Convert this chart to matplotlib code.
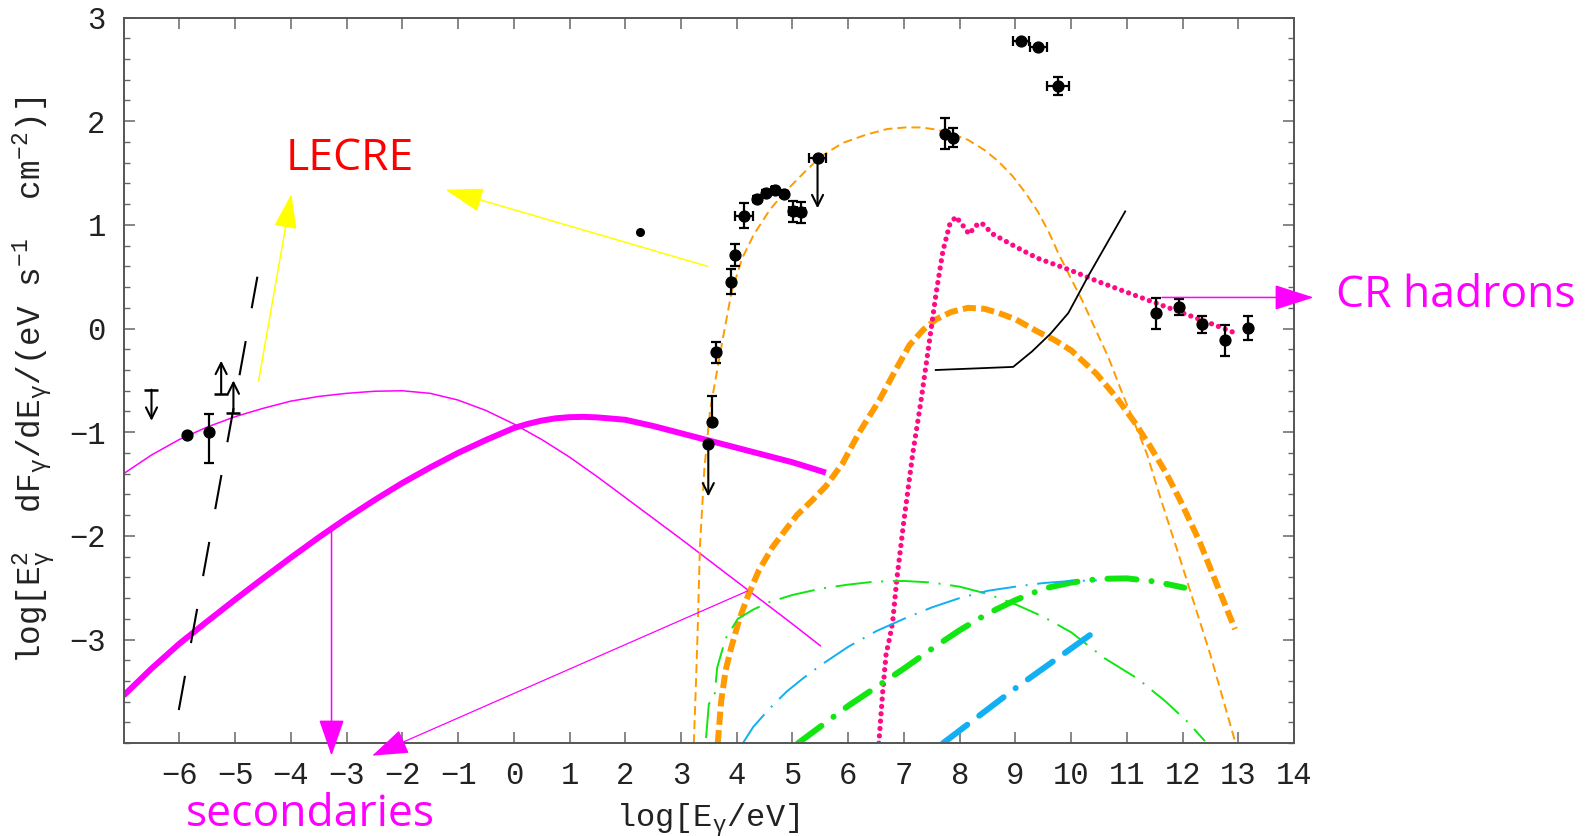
import matplotlib
matplotlib.use('Agg')
import matplotlib.pyplot as plt
from matplotlib.ticker import MultipleLocator

plt.rcParams['lines.scale_dashes'] = False
plt.rcParams['mathtext.fontset'] = 'custom'
plt.rcParams['mathtext.rm'] = 'Liberation Mono'
plt.rcParams['mathtext.it'] = 'Liberation Mono'
plt.rcParams['mathtext.bf'] = 'Liberation Mono'
plt.rcParams['font.family'] = ['Liberation Mono', 'DejaVu Sans Mono']

# ---------------- data ----------------
# thin magenta
thin_mag_x = [-7, -6.5, -6, -5.5, -5, -4.5, -4, -3.5, -3, -2.5, -2, -1.5, -1, -0.5, 0,
              0.5, 1, 1.5, 2, 3, 4, 5, 5.5]
thin_mag_y = [-1.40, -1.22, -1.07, -0.95, -0.85, -0.77, -0.70, -0.655, -0.625, -0.605,
              -0.60, -0.625, -0.69, -0.79, -0.92, -1.07, -1.24, -1.43, -1.63, -2.03,
              -2.44, -2.85, -3.06]
# thick magenta
thick_mag_x = [-7, -6.5, -6, -5.5, -5, -4.5, -4, -3.5, -3, -2.5, -2, -1.5, -1, -0.5, 0,
               0.25, 0.5, 0.75, 1, 1.25, 1.5, 2, 2.5, 3, 4, 5, 5.6]
thick_mag_y = [-3.54, -3.28, -3.04, -2.825, -2.615, -2.41, -2.21, -2.015, -1.83, -1.655,
               -1.49, -1.34, -1.20, -1.075, -0.96, -0.92, -0.888, -0.866, -0.855, -0.852,
               -0.857, -0.88, -0.94, -1.01, -1.15, -1.29, -1.39]
# black long dashed
bdash_x = [-6.01, -4.60]
bdash_y = [-3.68, 0.50]
# thin orange dashed
thin_or_x = [3.23, 3.27, 3.30, 3.34, 3.42, 3.52, 3.60, 3.75, 3.91, 4.10, 4.31, 4.60, 4.87,
             5.20, 5.51, 5.90, 6.32, 6.70, 7.03, 7.30, 7.58, 7.85, 8.15, 8.45, 8.70, 8.95,
             9.18, 9.40, 9.60, 9.75, 9.98, 10.2, 10.43, 10.67, 10.9, 11.12, 11.36, 11.6,
             12.0, 12.5, 12.95]
thin_or_y = [-4.0, -3.4, -2.9, -2.1, -1.35, -0.8, -0.55, -0.1, 0.36, 0.68, 0.91, 1.15,
             1.32, 1.50, 1.66, 1.79, 1.87, 1.925, 1.94, 1.94, 1.92, 1.88, 1.82, 1.72,
             1.61, 1.47, 1.31, 1.13, 0.93, 0.75, 0.50, 0.27, 0.0, -0.28, -0.6, -0.89,
             -1.21, -1.63, -2.3, -3.15, -4.0]
# thick orange dashed
thick_or_x = [3.66, 3.72, 3.80, 3.90, 4.05, 4.20, 4.40, 4.64, 4.85, 5.08, 5.35, 5.60, 5.90,
              6.20, 6.56, 6.85, 7.10, 7.35, 7.58, 7.85, 8.15, 8.45, 8.70, 9.00, 9.40, 9.70,
              10.0, 10.46, 10.82, 11.12, 11.41, 11.71, 11.95, 12.3, 12.6, 12.94]
thick_or_y = [-4.0, -3.6, -3.3, -3.08, -2.8, -2.58, -2.33, -2.11, -1.96, -1.80, -1.66,
              -1.52, -1.30, -1.0, -0.69, -0.40, -0.16, -0.01, 0.09, 0.16, 0.20, 0.19,
              0.15, 0.09, -0.03, -0.11, -0.21, -0.44, -0.67, -0.89, -1.13, -1.40, -1.65,
              -2.05, -2.45, -2.90]
# pink dotted (CR hadrons)
pink_x = [6.55, 6.62, 6.68, 6.75, 6.80, 6.87, 7.0, 7.16, 7.30, 7.45, 7.58, 7.70, 7.82, 7.93,
          8.05, 8.17, 8.28, 8.39, 8.6, 9.0, 9.39, 10.0, 10.5, 11.0, 11.5, 12.0, 12.5, 12.93]
pink_y = [-4.0, -3.5, -3.14, -2.97, -2.82, -2.43, -1.85, -1.2, -0.72, -0.15, 0.35, 0.75,
          1.0, 1.08, 1.0, 0.91, 0.99, 1.02, 0.91, 0.79, 0.68, 0.56, 0.45, 0.35, 0.25, 0.15,
          0.05, -0.04]
# black solid
bsol_x = [7.57, 8.96, 9.30, 9.63, 9.95, 10.3, 10.97]
bsol_y = [-0.40, -0.37, -0.22, -0.05, 0.15, 0.50, 1.13]
# green thin dash-dot
gthin_x = [3.45, 3.50, 3.60, 3.65, 3.80, 4.02, 4.30, 4.58, 5.0, 5.5, 6.0, 6.5, 7.0, 7.5,
           8.0, 8.5, 9.0, 9.5, 10.0, 10.6, 11.2, 11.7, 12.1, 12.4]
gthin_y = [-3.95, -3.62, -3.55, -3.27, -2.99, -2.80, -2.71, -2.64, -2.57, -2.51, -2.47,
           -2.44, -2.435, -2.45, -2.49, -2.56, -2.66, -2.78, -2.93, -3.18, -3.38, -3.60,
           -3.80, -3.98]
# green thick dash-dot
gthick_x = [5.10, 5.5, 6.0, 6.5, 7.0, 7.5, 8.0, 8.5, 9.0, 9.5, 10.0, 10.5, 11.0, 11.5,
            12.03]
gthick_y = [-4.0, -3.84, -3.64, -3.46, -3.28, -3.09, -2.91, -2.75, -2.62, -2.51, -2.45,
            -2.415, -2.41, -2.44, -2.50]
# blue thin dash-dot
bthin_x = [4.11, 4.30, 4.60, 4.90, 5.20, 5.50, 6.0, 6.5, 7.0, 7.5, 8.0, 8.5, 9.0, 9.5,
           10.0, 10.46]
bthin_y = [-4.0, -3.84, -3.66, -3.50, -3.37, -3.25, -3.07, -2.92, -2.80, -2.69, -2.60,
           -2.53, -2.49, -2.455, -2.435, -2.43]
# blue thick dash-dot
bthick_x = [7.70, 9.0, 10.46]
bthick_y = [-4.0, -3.47, -2.91]

# detections
det_x = [-5.87, -5.46, 3.55, 3.63, 3.90, 3.97, 4.13, 4.37, 4.53, 4.68, 4.85, 5.01, 5.15,
         7.73, 7.88, 9.10, 9.41, 9.77, 11.52, 11.94, 12.35, 12.76, 13.17]
det_y = [-1.03, -1.00, -0.90, -0.23, 0.45, 0.71, 1.09, 1.25, 1.31, 1.34, 1.30, 1.13, 1.12,
         1.88, 1.84, 2.77, 2.72, 2.34, 0.15, 0.21, 0.04, -0.115, 0.005]
det_ylo = [0.0, 0.30, 0.0, 0.10, 0.12, 0.11, 0.12, 0.03, 0.03, 0.03, 0.03, 0.10, 0.10,
           0.15, 0.09, 0.0, 0.0, 0.09, 0.15, 0.075, 0.08, 0.15, 0.115]
det_yhi = [0.0, 0.18, 0.25, 0.10, 0.12, 0.11, 0.12, 0.03, 0.03, 0.03, 0.03, 0.10, 0.10,
           0.15, 0.09, 0.0, 0.0, 0.09, 0.14, 0.075, 0.08, 0.15, 0.115]
det_xerr = [0, 0, 0, 0, 0, 0, 0.16, 0.04, 0.04, 0.04, 0.04, 0.08, 0.08,
            0, 0, 0.145, 0.15, 0.20, 0, 0, 0, 0, 0]
# upper limits (value, arrow end)
ul_x = [-6.50, 3.49, 5.45]
ul_y = [-0.59, -1.11, 1.65]
ul_end = [-0.89, -1.62, 1.16]
ul_dot = [False, True, True]
ul_xerr = [0, 0, 0.16]
# lower limits
ll_x = [-5.25, -5.03]
ll_y = [-0.63, -0.81]
ll_end = [-0.31, -0.50]
# isolated small point
sp_x = [2.26]
sp_y = [0.93]

xticks = list(range(-6, 15))
yticks = list(range(-3, 4))

# ---------------- figure ----------------
fig = plt.figure(figsize=(15.89, 8.36), dpi=100)
ax = fig.add_axes([0.0778, 0.111, 0.7366, 0.868])
ax.set_xlim(-7, 14)
ax.set_ylim(-4, 3)

MAG = '#ff00ff'
ORA = '#ff9a00'
PINK = '#ff0a85'
GRN = '#11e611'
BLU = '#10b0f2'

ax.plot(thin_mag_x, thin_mag_y, color=MAG, lw=1.1)
ax.plot(thick_mag_x, thick_mag_y, color=MAG, lw=4.3, solid_capstyle='butt')
ax.plot(bdash_x, bdash_y, color='black', lw=1.5, dashes=(25, 24))
ax.plot(thin_or_x, thin_or_y, color=ORA, lw=1.4, dashes=(6.5, 3.6))
ax.plot(thick_or_x, thick_or_y, color=ORA, lw=4.3, dashes=(9.5, 3.8))
ax.plot(pink_x, pink_y, color=PINK, lw=3.8, dashes=(0.01, 5.3), dash_capstyle='round')
ax.plot(bsol_x, bsol_y, color='black', lw=1.3)
ax.plot(gthin_x, gthin_y, color=GRN, lw=1.4, dashes=(26, 7, 1.4, 7))
ax.plot(gthick_x, gthick_y, color=GRN, lw=4.3, dashes=(21, 10.8, 0.1, 10.8),
        dash_capstyle='round')
ax.plot(bthin_x, bthin_y, color=BLU, lw=1.4, dashes=(26, 7, 1.4, 7))
ax.plot(bthick_x, bthick_y, color=BLU, lw=4.3, dashes=(22, 10.8, 22, 10.8, 0.1, 10.8),
        dash_capstyle='round')

# data points
ax.errorbar(det_x, det_y, yerr=[det_ylo, det_yhi], xerr=det_xerr, fmt='o', color='black',
            ms=7.8, elinewidth=1.6, capsize=3.4, capthick=1.6, zorder=5)
ax.plot(sp_x, sp_y, 'o', color='black', ms=5.5, zorder=5)

lim_arrow = dict(arrowstyle='->,head_length=0.4,head_width=0.2', color='black', lw=1.5,
                 shrinkA=0, shrinkB=0, mutation_scale=20)
for x, y, e, d, xe in zip(ul_x, ul_y, ul_end, ul_dot, ul_xerr):
    ax.annotate('', xy=(x, e), xytext=(x, y), arrowprops=lim_arrow, zorder=5)
    if d:
        ax.errorbar([x], [y], xerr=[xe] if xe else None, fmt='o', color='black', ms=7.8,
                    elinewidth=1.6, capsize=3.4, capthick=1.6, zorder=5)
    else:
        ax.plot([x], [y], marker='_', ms=10, mew=1.8, color='black', zorder=5)
for x, y, e in zip(ll_x, ll_y, ll_end):
    ax.annotate('', xy=(x, e), xytext=(x, y), arrowprops=lim_arrow, zorder=5)
    ax.plot([x], [y], marker='_', ms=10, mew=1.8, color='black', zorder=5)


def big_arrow(x0, y0, x1, y1, color, lw=1.1, hl=1.15, hw=0.40):
    ax.annotate('', xy=(x1, y1), xytext=(x0, y0),
                arrowprops=dict(arrowstyle=f'-|>,head_length={hl},head_width={hw}',
                                color=color, lw=lw, shrinkA=0, shrinkB=0,
                                mutation_scale=20),
                annotation_clip=False, zorder=6)


big_arrow(-3.27, -1.92, -3.27, -4.12, MAG)
big_arrow(4.20, -2.53, -2.54, -4.12, MAG, lw=0.9)
big_arrow(11.63, 0.30, 14.35, 0.30, MAG, hl=1.25, hw=0.40)
big_arrow(-4.58, -0.51, -3.99, 1.30, '#ffff00', hl=1.1, hw=0.36)
big_arrow(3.48, 0.60, -1.23, 1.34, '#ffff00', hl=1.2, hw=0.38)

# annotation texts
fig.text(0.22, 0.7963, 'LECRE', color='#ff0000', fontsize=32, family='Open Sans',
         ha='center', va='baseline')
fig.text(0.8406, 0.6328, 'CR hadrons', color=MAG, fontsize=32, family='Open Sans',
         ha='left', va='baseline')
fig.text(0.1167, 0.012, 'secondaries', color=MAG, fontsize=32, family='Open Sans',
         ha='left', va='baseline')

# axes styling
ax.set_xticks(xticks)
ax.set_yticks(yticks)
ax.yaxis.set_minor_locator(MultipleLocator(0.2))
ax.tick_params(which='both', direction='in', top=True, right=True, colors='#666666',
               labelcolor='#222222', labelsize=22, pad=13)
ax.tick_params(which='major', length=8, width=1.1)
ax.tick_params(which='minor', length=4.5, width=1.0)
for s in ax.spines.values():
    s.set_color('#555555')
    s.set_linewidth(1.4)

fig.text(0.4453, 0.011, r'log[E$_{\mathrm{γ}}$/eV]', fontsize=23, ha='center',
         va='baseline', color='#222222')
fig.text(0.0215, 0.5455,
         r'log[E$_{\mathrm{γ}}^{\mathrm{2}}$  dF$_{\mathrm{γ}}$/dE$_{\mathrm{γ}}$/(eV s$^{\mathrm{-1}}$  cm$^{\mathrm{-2}}$)]',
         fontsize=23.5, rotation=90, ha='center', va='center', color='#222222')

fig.savefig('out.png', dpi=100)
